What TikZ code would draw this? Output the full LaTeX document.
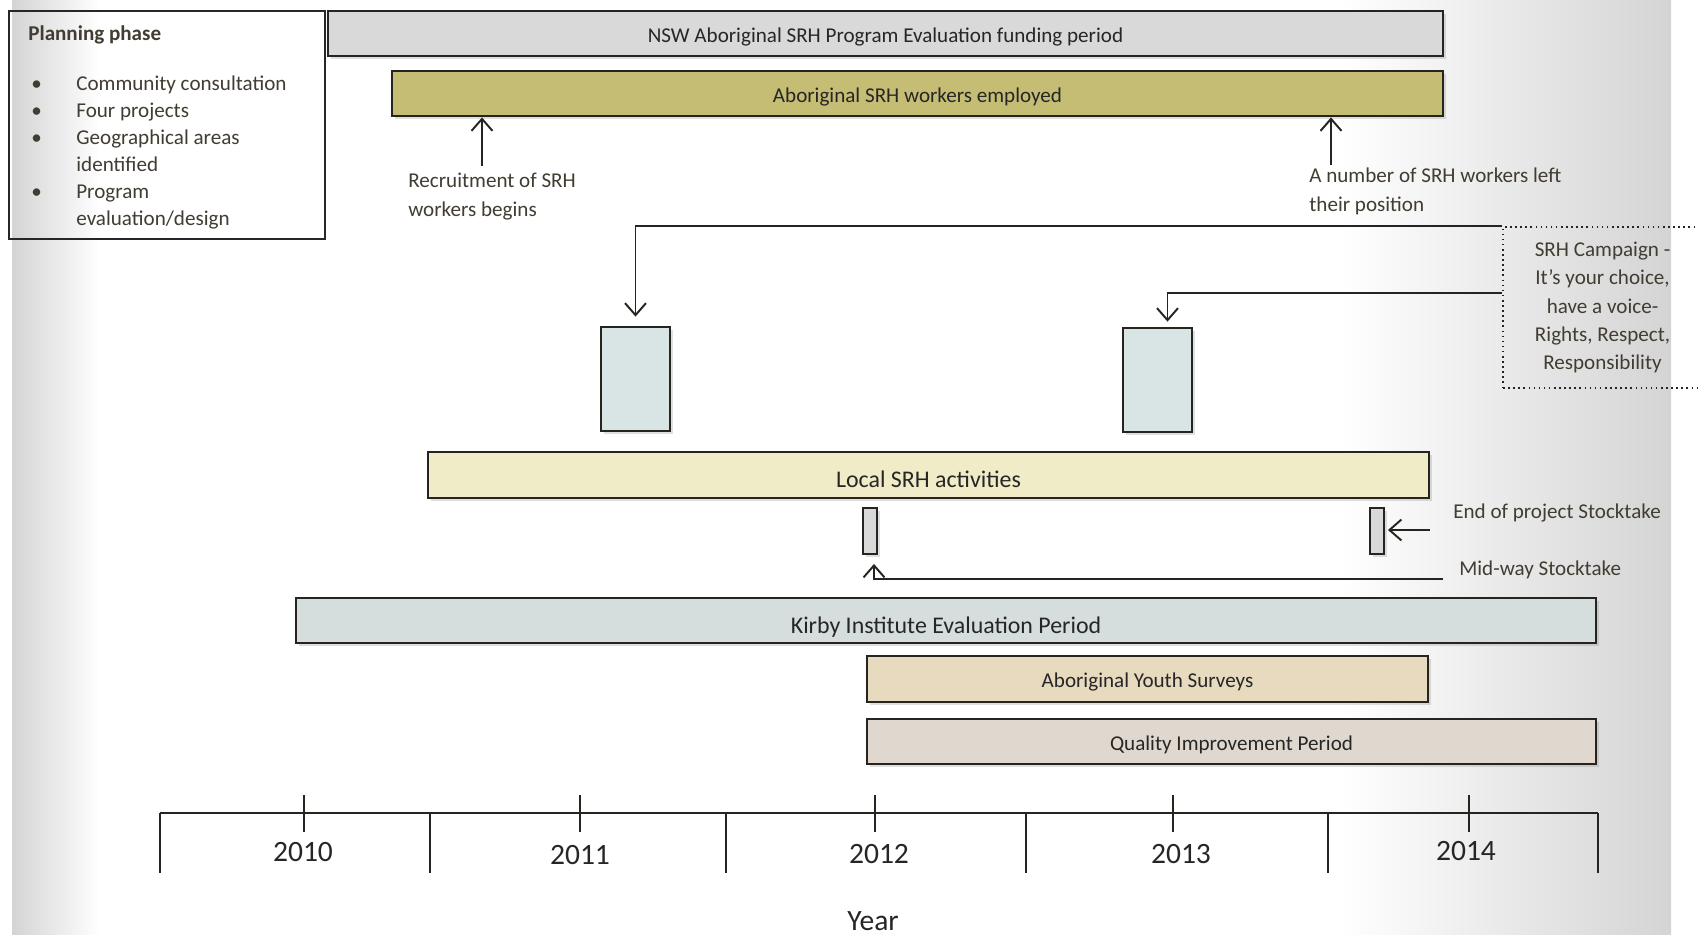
\documentclass[tikz,border=0pt]{standalone}
\usepackage{fontspec}
\setmainfont{Carlito}
\usetikzlibrary{arrows.meta,positioning,calc,fit,shadows}
\definecolor{TextGray}{RGB}{66,61,50}
\definecolor{LineDark}{RGB}{38,36,30}
\definecolor{PageGray}{RGB}{212,212,212}
\definecolor{FundGray}{RGB}{217,217,217}
\definecolor{WorkerOlive}{RGB}{196,189,115}
\definecolor{ProjBlue}{RGB}{217,229,229}
\definecolor{LocalYellow}{RGB}{239,236,199}
\definecolor{KirbyGray}{RGB}{214,221,221}
\definecolor{SurveyTan}{RGB}{232,218,190}
\definecolor{QualityTan}{RGB}{224,216,206}

\begin{document}
\begin{tikzpicture}[x=0.2mm, y=-0.2mm,
    bar/.style={draw=LineDark, line width=1.6pt, inner sep=0pt,
      drop shadow={shadow xshift=0.6mm, shadow yshift=-0.6mm, opacity=0.25}},
    bartext/.style={text=black!85, font=\fontsize{12}{14}\selectfont, inner sep=0pt, yshift=-0.6mm},
    bigtext/.style={bartext, font=\fontsize{13.6}{16}\selectfont},
    note/.style={text=TextGray, font=\fontsize{12}{16.5}\selectfont, align=left, inner sep=0pt},
    arr/.style={-{Straight Barb[length=2.4mm, width=4.2mm]}, line width=1.1pt, draw=LineDark},
    yearlbl/.style={text=black!85, font=\fontsize{16.8}{19}\selectfont, inner sep=0pt}]
  % page and its shaded edges
  \useasboundingbox (0,0) rectangle (1698,935);
  \clip (0,0) rectangle (1698,935);
  \fill[white] (0,0) rectangle (1698,935);
  \shade[left color=PageGray, right color=white] (12,0) rectangle (100,935);
  \shade[left color=white, right color=PageGray] (1340,0) rectangle (1671,935);

  % planning phase
  \node[draw=black!85, line width=1.1pt, fit={(9,11) (325,239)}, inner sep=0pt] (plan) {};
  \node[note, font=\fontsize{12}{15.4}\selectfont, anchor=north west] (plantext) at (28,25)
    {\textbf{Planning phase}\\[13pt]
     \hspace*{0.6mm}\makebox[9mm][l]{\textbullet}Community consultation\\
     \hspace*{0.6mm}\makebox[9mm][l]{\textbullet}Four projects\\
     \hspace*{0.6mm}\makebox[9mm][l]{\textbullet}Geographical areas\\
     \hspace*{9.6mm}identified\\
     \hspace*{0.6mm}\makebox[9mm][l]{\textbullet}Program\\
     \hspace*{9.6mm}evaluation/design};

  % funding and workers
  \node[bar, fill=FundGray, fit={(328,11) (1443,56)},
    label={[bartext]center:NSW Aboriginal SRH Program Evaluation funding period}] (nsw) {};
  \node[bar, fill=WorkerOlive, fit={(392,71) (1443,116)},
    label={[bartext]center:Aboriginal SRH workers employed}] (workers) {};
  \node[note, anchor=north west] (recruit) at (408,173) {Recruitment of SRH\\workers begins};
  \node[note, anchor=north west] (left) at (1309,168) {A number of SRH workers left\\their position};
  \coordinate (recruitfoot) at (482,166);
  \coordinate (leftfoot) at (1331,165);
  \draw[arr] (recruitfoot) -- (recruitfoot |- workers.south);
  \draw[arr] (leftfoot) -- (leftfoot |- workers.south);

  % campaign
  \node[draw=LineDark, dotted, line width=0.9pt, fit={(1503,227) (1702,388)}, inner sep=0pt,
    label={[note, font=\fontsize{12}{16.1}\selectfont, align=center]center:{SRH Campaign -\\It’s your choice,\\have a voice-\\Rights, Respect,\\Responsibility}}] (camp) {};
  \node[bar, fill=ProjBlue, fit={(601,327) (670,431)}] (proj1) {};
  \node[bar, fill=ProjBlue, fit={(1123,328) (1192,432)}] (proj2) {};
  \draw[arr, shorten >=1.8mm] (camp.north west) -| (proj1.north);
  \draw[arr, shorten >=1mm] ([yshift=2.9mm]camp.west) -| ([xshift=2mm]proj2.north);

  % local activities and stocktakes
  \node[bar, fill=LocalYellow, fit={(428,452) (1429,498)},
    label={[bigtext, yshift=-0.3mm]center:Local SRH activities}] (local) {};
  \node[bar, fill=FundGray, line width=1.1pt, fit={(863,508) (877,554)}] (stock1) {};
  \node[bar, fill=FundGray, line width=1.1pt, fit={(1370,508) (1384,554)}] (stock2) {};
  \node[note, anchor=west] (endstock) at (1453,513) {End of project Stocktake};
  \node[note, anchor=west] (midstock) at (1459,570) {Mid-way Stocktake};
  \coordinate (endfoot) at (1430,530);
  \coordinate (midfoot) at (1443,579);
  \draw[arr, shorten >=0.6mm] (endfoot) -- (endfoot -| stock2.east);
  \draw[arr, shorten >=1.8mm] (midfoot) -| ([xshift=0.8mm]stock1.south);

  % evaluation
  \node[bar, fill=KirbyGray, fit={(296,598) (1596,643)},
    label={[bigtext, yshift=-0.7mm]center:Kirby Institute Evaluation Period}] (kirby) {};
  \node[bar, fill=SurveyTan, fit={(867,656) (1428,702)},
    label={[bartext]center:Aboriginal Youth Surveys}] (youth) {};
  \node[bar, fill=QualityTan, fit={(867,719) (1596,764)},
    label={[bartext]center:Quality Improvement Period}] (quality) {};

  % time axis
  \draw[line width=1.5pt, LineDark] (160,813) -- (1598,813);
  \foreach \xx in {160,430,726,1026,1328,1598}
    \draw[line width=0.8pt, LineDark] (\xx,813) -- (\xx,873);
  \foreach \xx/\lx/\ly/\yr in {304/303/852/2010, 580/580/855/2011, 875/879/854/2012, 1173/1181/854/2013, 1469/1466/851/2014} {
    \draw[line width=0.8pt, LineDark] (\xx,795) -- (\xx,832);
    \node[yearlbl] (yr\yr) at (\lx,\ly) {\yr};
  }
  \node[yearlbl] (yearaxis) at (873,921) {Year};
\end{tikzpicture}
\end{document}
